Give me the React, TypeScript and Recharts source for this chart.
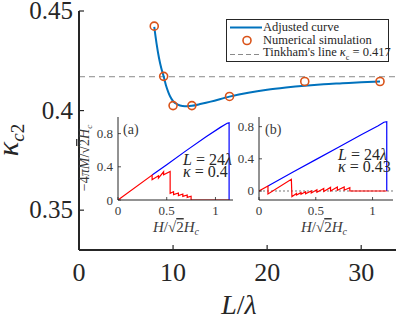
import React from 'react';
import { ComposedChart, LineChart, Line, Scatter, XAxis, YAxis, ReferenceLine, Legend } from 'recharts';

// ---------- main chart data ----------
const curveX = [8, 8.25, 8.5, 8.75, 9, 9.25, 9.5, 9.75, 10, 10.5, 11, 11.5, 12, 13, 14, 16, 18, 20, 22, 24, 26, 28, 30, 32];
const curveY = [0.442, 0.4335, 0.4265, 0.4212, 0.4172, 0.4126, 0.4092, 0.4066, 0.4048, 0.403, 0.4023, 0.4022, 0.4024, 0.4034, 0.4045, 0.407, 0.409, 0.4105, 0.4116, 0.4125, 0.4132, 0.4137, 0.4142, 0.4146];
const simX = [8, 9, 10, 12, 16, 24, 32];
const simY = [0.4424, 0.4172, 0.4025, 0.4025, 0.4071, 0.4146, 0.4146];
const tinkham = 0.417;
const mainXTicks = [0, 10, 20, 30];
const mainYTicks = [0.35, 0.4, 0.45];
const legendLabels = ['Adjusted curve', 'Numerical simulation', "Tinkham's line"];

// ---------- inset (a) ----------
const aRedX = [0, 0.35, 0.35, 0.415, 0.415, 0.468, 0.468, 0.535, 0.535, 0.57, 0.57, 0.62, 0.62, 0.665, 0.665, 0.71, 0.71, 0.75, 0.75, 1.14];
const aRedY = [0, 0.3, 0.245, 0.292, 0.264, 0.34, 0.304, 0.344, 0.08, 0.1, 0.064, 0.084, 0.052, 0.072, 0.044, 0.06, 0.032, 0.045, 0, 0];
const aBlueX = [0.35, 0.5, 0.7, 0.9, 1.05, 1.12, 1.14, 1.14];
const aBlueY = [0.3, 0.425, 0.595, 0.76, 0.875, 0.925, 0.93, 0];

// ---------- inset (b) ----------
const bRedX = [0, 0.079, 0.079, 0.285, 0.29, 0.33, 0.33, 0.37, 0.37, 0.41, 0.41, 0.46, 0.46, 0.51, 0.51, 0.57, 0.57, 0.63, 0.63, 0.69, 0.69, 0.75, 0.75, 0.8, 0.8, 1.125];
const bRedY = [0, 0.062, -0.037, 0.145, -0.07, -0.03, -0.05, -0.02, -0.04, -0.01, -0.035, 0.0, -0.025, 0.015, -0.015, 0.03, -0.005, 0.045, 0.0, 0.05, 0.01, 0.05, 0.01, 0.04, 0, 0];
const bBlueX = [0.079, 0.3, 0.5, 0.7, 0.9, 1.05, 1.1, 1.125, 1.125];
const bBlueY = [0.062, 0.235, 0.39, 0.545, 0.7, 0.81, 0.855, 0.862, 0];

const insetXTicks = [0, 0.5, 1];
const insetYTicks = [0, 0.2, 0.4, 0.6, 0.8];

const zip = (xs: number[], ys: number[]) => xs.map((x, i) => ({ x, y: ys[i] }));
const curveData = zip(curveX, curveY);
const simData = zip(simX, simY);
const aRed = zip(aRedX, aRedY);
const aBlue = zip(aBlueX, aBlueY);
const bRed = zip(bRedX, bRedY);
const bBlue = zip(bBlueX, bBlueY);

const FONT = 'Liberation Serif';
const INK = '#262626';
const CURVE = '#0072BD';
const ORANGE = '#D95319';

const fmt = (v: number) => String(v);

const MainBottomTick = (p: any) => (
  <g>
    <line x1={p.x} y1={p.y} x2={p.x} y2={p.y - 5} stroke={INK} strokeWidth={1.2} />
    <text x={p.x} y={p.y + 31} textAnchor="middle" fontSize={26} fontFamily={FONT} fill={INK}>{fmt(p.payload.value)}</text>
  </g>
);
const MainLeftTick = (p: any) => (
  <g>
    <line x1={p.x} y1={p.y} x2={p.x + 5} y2={p.y} stroke={INK} strokeWidth={1.2} />
    <text x={p.x - 6} y={p.y + 8} textAnchor="end" fontSize={25} fontFamily={FONT} fill={INK}>{fmt(p.payload.value)}</text>
  </g>
);
const MainTopTick = (p: any) => <line x1={p.x} y1={p.y} x2={p.x} y2={p.y + 5} stroke={INK} strokeWidth={1.2} />;
const MainRightTick = (p: any) => <line x1={p.x} y1={p.y} x2={p.x - 5} y2={p.y} stroke={INK} strokeWidth={1.2} />;

const InsetBottomTick = (p: any) => (
  <g>
    <line x1={p.x} y1={p.y} x2={p.x} y2={p.y - 3} stroke={INK} strokeWidth={0.8} />
    <text x={p.x} y={p.y + 15} textAnchor="middle" fontSize={13} fontFamily={FONT} fill="#3a3a3a">{fmt(p.payload.value)}</text>
  </g>
);
const InsetLeftTick = (p: any) => (
  <g>
    <line x1={p.x} y1={p.y} x2={p.x + 3} y2={p.y} stroke={INK} strokeWidth={0.8} />
    <text x={p.x - 5} y={p.y + 4.5} textAnchor="end" fontSize={13} fontFamily={FONT} fill="#3a3a3a">{fmt(p.payload.value)}</text>
  </g>
);
const InsetTopTick = (p: any) => <line x1={p.x} y1={p.y} x2={p.x} y2={p.y + 3} stroke={INK} strokeWidth={0.8} />;
const InsetRightTick = (p: any) => <line x1={p.x} y1={p.y} x2={p.x - 3} y2={p.y} stroke={INK} strokeWidth={0.8} />;

const OpenCircle = (p: any) => (
  <circle cx={p.cx} cy={p.cy} r={4} fill="none" stroke={ORANGE} strokeWidth={1.6} />
);

const renderLegend = () => (
  <div
    style={{
      width: 161,
      height: 41,
      border: `1px solid ${INK}`,
      background: '#fff',
      fontFamily: FONT,
      fontSize: 12.5,
      color: INK,
      boxSizing: 'content-box',
    }}
  >
    {legendLabels.map((label, i) => (
      <div key={label} style={{ display: 'flex', alignItems: 'center', height: 13.5, marginTop: i === 0 ? 0.5 : 0 }}>
        <svg width={36} height={13} style={{ flex: 'none' }}>
          {i === 0 && <line x1={3} y1={6.5} x2={35} y2={6.5} stroke={CURVE} strokeWidth={2} />}
          {i === 1 && <circle cx={20} cy={6.5} r={4} fill="none" stroke={ORANGE} strokeWidth={1.6} />}
          {i === 2 && <line x1={3} y1={6.5} x2={35} y2={6.5} stroke="#8a8a8a" strokeWidth={1} strokeDasharray="5 3" />}
        </svg>
        <span style={{ whiteSpace: 'nowrap', lineHeight: '13px' }}>
          {label}
          {i === 2 && (
            <>
              {' '}<i>κ</i><sub style={{ fontSize: 8 }}>c</sub> = {tinkham}
            </>
          )}
        </span>
      </div>
    ))}
  </div>
);

export default function App() {
  return (
    <div style={{ position: 'absolute', left: 0, top: 0, width: 399, height: 321, background: '#fff', fontFamily: FONT }}>
      <div style={{ position: 'absolute', left: 0, top: 0 }}>
        <ComposedChart width={399} height={321} margin={{ top: 11, right: 3, left: 0, bottom: 0 }}>
          <XAxis dataKey="x" type="number" domain={[0, 33.7]} ticks={mainXTicks} height={71} tickSize={0} tickMargin={0} tick={MainBottomTick} axisLine={{ stroke: INK, strokeWidth: 2 }} tickLine={false} allowDataOverflow />
          <XAxis xAxisId="top" orientation="top" dataKey="x" type="number" domain={[0, 33.7]} ticks={mainXTicks} height={0} tickSize={0} tickMargin={0} tick={MainTopTick} axisLine={{ stroke: INK, strokeWidth: 2 }} tickLine={false} allowDataOverflow />
          <YAxis dataKey="y" type="number" domain={[0.33, 0.45]} ticks={mainYTicks} width={79} tickSize={0} tickMargin={0} tick={MainLeftTick} axisLine={{ stroke: INK, strokeWidth: 2 }} tickLine={false} allowDataOverflow />
          <YAxis yAxisId="right" orientation="right" dataKey="y" type="number" domain={[0.33, 0.45]} ticks={mainYTicks} width={0} tickSize={0} tickMargin={0} tick={MainRightTick} axisLine={{ stroke: INK, strokeWidth: 2 }} tickLine={false} allowDataOverflow />
          <ReferenceLine y={tinkham} stroke="#8a8a8a" strokeWidth={1} strokeDasharray="6 4" />
          <Line data={curveData} dataKey="y" type="monotone" stroke={CURVE} strokeWidth={2} dot={false} isAnimationActive={false} />
          <Scatter data={simData} dataKey="y" shape={OpenCircle} isAnimationActive={false} />
          <Legend content={renderLegend} layout="horizontal" verticalAlign="middle" align="center" wrapperStyle={{ left: 226, top: 19, width: 163, height: 43 }} />
        </ComposedChart>
      </div>

      <div style={{ position: 'absolute', left: 80, top: 112 }}>
        <LineChart width={160} height={135} margin={{ top: 5, right: 7, left: 0, bottom: 0 }}>
          <XAxis dataKey="x" type="number" domain={[0, 1.18]} ticks={insetXTicks} height={47} tickSize={0} tickMargin={0} tick={InsetBottomTick} axisLine={{ stroke: INK, strokeWidth: 1 }} tickLine={false} allowDataOverflow />
          <XAxis xAxisId="top" orientation="top" dataKey="x" type="number" domain={[0, 1.18]} ticks={insetXTicks} height={0} tickSize={0} tickMargin={0} tick={InsetTopTick} axisLine={{ stroke: INK, strokeWidth: 1 }} tickLine={false} allowDataOverflow />
          <YAxis type="number" domain={[0, 1.0]} ticks={insetYTicks} width={38} tickSize={0} tickMargin={0} tick={InsetLeftTick} axisLine={{ stroke: INK, strokeWidth: 1 }} tickLine={false} allowDataOverflow />
          <YAxis yAxisId="right" orientation="right" type="number" domain={[0, 1.0]} ticks={insetYTicks} width={0} tickSize={0} tickMargin={0} tick={InsetRightTick} axisLine={{ stroke: INK, strokeWidth: 1 }} tickLine={false} allowDataOverflow />
          <Line data={aBlue} dataKey="y" type="linear" stroke="#0000FF" strokeWidth={1.2} dot={false} isAnimationActive={false} />
          <Line data={aRed} dataKey="y" type="linear" stroke="#FF0000" strokeWidth={1.2} dot={false} isAnimationActive={false} />
        </LineChart>
      </div>

      <div style={{ position: 'absolute', left: 222, top: 112 }}>
        <LineChart width={174} height={135} margin={{ top: 5, right: 3, left: 0, bottom: 0 }}>
          <XAxis dataKey="x" type="number" domain={[0, 1.18]} ticks={insetXTicks} height={47} tickSize={0} tickMargin={0} tick={InsetBottomTick} axisLine={{ stroke: INK, strokeWidth: 1 }} tickLine={false} allowDataOverflow />
          <XAxis xAxisId="top" orientation="top" dataKey="x" type="number" domain={[0, 1.18]} ticks={insetXTicks} height={0} tickSize={0} tickMargin={0} tick={InsetTopTick} axisLine={{ stroke: INK, strokeWidth: 1 }} tickLine={false} allowDataOverflow />
          <YAxis type="number" domain={[-0.112, 0.92]} ticks={insetYTicks} width={37} tickSize={0} tickMargin={0} tick={InsetLeftTick} axisLine={{ stroke: INK, strokeWidth: 1 }} tickLine={false} allowDataOverflow />
          <YAxis yAxisId="right" orientation="right" type="number" domain={[-0.112, 0.92]} ticks={insetYTicks} width={0} tickSize={0} tickMargin={0} tick={InsetRightTick} axisLine={{ stroke: INK, strokeWidth: 1 }} tickLine={false} allowDataOverflow />
          <ReferenceLine y={0} stroke="#555" strokeWidth={0.8} strokeDasharray="2 2" />
          <Line data={bBlue} dataKey="y" type="linear" stroke="#0000FF" strokeWidth={1.2} dot={false} isAnimationActive={false} />
          <Line data={bRed} dataKey="y" type="linear" stroke="#FF0000" strokeWidth={1.2} dot={false} isAnimationActive={false} />
        </LineChart>
      </div>

      <svg width={399} height={321} style={{ position: 'absolute', left: 0, top: 0, pointerEvents: 'none' }} fontFamily={FONT}>
        <text transform="translate(18,140) rotate(-90)" textAnchor="middle" fontSize={30} fill={INK}>
          <tspan fontStyle="italic">κ</tspan>
          <tspan fontSize={19} dy={6}><tspan fontStyle="italic">c</tspan>2</tspan>
        </text>
        <text x={239} y={314} textAnchor="middle" fontSize={28} fill={INK}>
          <tspan fontStyle="italic">L</tspan>/<tspan fontStyle="italic">λ</tspan>
        </text>
        <text transform="translate(89,158) rotate(-90)" textAnchor="middle" fontSize={14} fill="#3a3a3a">
          −4<tspan fontStyle="italic">πM</tspan>/√<tspan style={{ textDecoration: 'overline' }}>2</tspan><tspan fontStyle="italic">H</tspan><tspan fontSize={9} dy={3} fontStyle="italic">c</tspan>
        </text>
        <text x={176} y={232} textAnchor="middle" fontSize={15} fill="#3a3a3a">
          <tspan fontStyle="italic">H</tspan>/√<tspan style={{ textDecoration: 'overline' }}>2</tspan><tspan fontStyle="italic">H</tspan><tspan fontSize={10} dy={3} fontStyle="italic">c</tspan>
        </text>
        <text x={324} y={232} textAnchor="middle" fontSize={15} fill="#3a3a3a">
          <tspan fontStyle="italic">H</tspan>/√<tspan style={{ textDecoration: 'overline' }}>2</tspan><tspan fontStyle="italic">H</tspan><tspan fontSize={10} dy={3} fontStyle="italic">c</tspan>
        </text>
        <text x={123} y={134} fontSize={14} fill="#3a3a3a">(a)</text>
        <text x={183} y={165} fontSize={16} fill={INK}><tspan fontStyle="italic">L</tspan> = 24<tspan fontStyle="italic">λ</tspan></text>
        <text x={183} y={177} fontSize={16} fill={INK}><tspan fontStyle="italic">κ</tspan> = 0.4</text>
        <text x={265} y={134} fontSize={14} fill="#3a3a3a">(b)</text>
        <text x={338} y={160} fontSize={16} fill={INK}><tspan fontStyle="italic">L</tspan> = 24<tspan fontStyle="italic">λ</tspan></text>
        <text x={338} y={172} fontSize={16} fill={INK}><tspan fontStyle="italic">κ</tspan> = 0.43</text>
      </svg>
    </div>
  );
}
